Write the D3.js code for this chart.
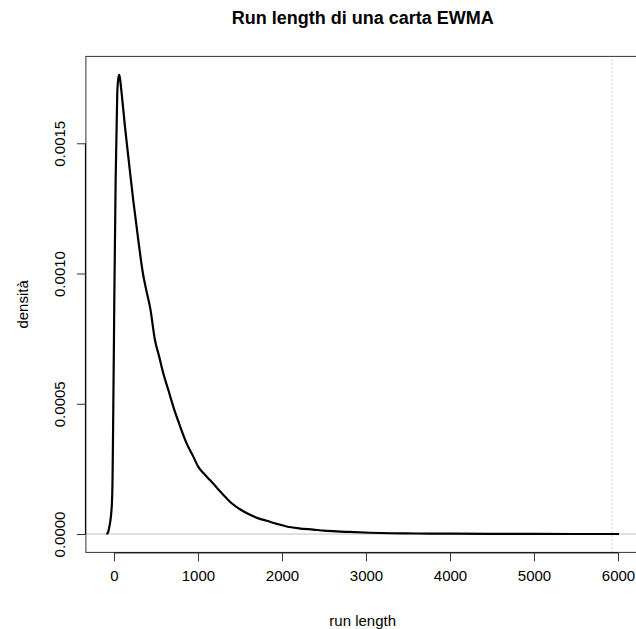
<!DOCTYPE html>
<html>
<head>
<meta charset="utf-8">
<script src="https://cdn.jsdelivr.net/npm/d3@7"></script>
<style>
  body { margin: 0; background: #fff; }
  text { font-family: "Liberation Sans", Arial, sans-serif; fill: #000; }
</style>
</head>
<body>
<script>
// run length values (x) and estimated density (y)
var runLength = [-90, -71, -56, -42, -30, -24, -18, -12, -6, 0, 4, 20, 39, 52, 63, 75, 92, 131, 175, 230, 289, 345,
  389, 430, 488, 539, 587, 650, 706, 780, 865, 940, 1004, 1070, 1143, 1200, 1262, 1330, 1401, 1500,
  1619, 1720, 1818, 1940, 2056, 2200, 2373, 2500, 2651, 2800, 3048, 3300, 3600, 4000, 4500, 5000, 5500, 6012]
var densita = [0, 0.000006, 0.000026, 0.000052, 0.00009, 0.00012, 0.00019, 0.00035, 0.00055, 0.00075, 0.0009,
  0.00136, 0.00169, 0.00175, 0.001763, 0.00174, 0.00169, 0.001564, 0.001436, 0.00128, 0.00113, 0.001,
  0.00093, 0.00087, 0.000745, 0.00068, 0.000617, 0.00055, 0.000489, 0.00042, 0.000348, 0.0003,
  0.000258, 0.000232, 0.000207, 0.000187, 0.000164, 0.000141, 0.000118, 0.000095,
  0.000074, 0.00006, 0.000051, 0.000039, 0.000029, 0.000022, 0.000017, 0.000013, 0.00001, 0.000008,
  0.000005, 0.000003, 0.000002, 0.0000012, 0.0000007, 0.0000004, 0.0000002, 0.0000001]
var xTicks = [0, 1000, 2000, 3000, 4000, 5000, 6000]
var yTicks = [0, 0.0005, 0.001, 0.0015]
var linea = 5929 // linea verticale tratteggiata

var titolo = "Run length di una carta EWMA"
var xLab = "run length"
var yLab = "densità"

var w = 636, h = 629

// dominio con il 4% di margine come in R
var xr = d3.extent(runLength)
var yr = d3.extent(densita)
var px = (xr[1] - xr[0]) * 0.04
var py = (yr[1] - yr[0]) * 0.04

var x = d3.scaleLinear().domain([xr[0] - px, xr[1] + px]).range([85.9, 639.5])
var y = d3.scaleLinear().domain([yr[0] - py, yr[1] + py]).range([552.4, 56.4])

var svg = d3.select("body").append("svg").attr("width", w).attr("height", h)

// linea orizzontale a zero (grigia)
svg.append("line")
  .attr("x1", x.range()[0]).attr("x2", x.range()[1])
  .attr("y1", y(0)).attr("y2", y(0))
  .attr("stroke", "#bebebe").attr("stroke-width", 1)

// linea verticale tratteggiata
svg.append("line")
  .attr("x1", x(linea)).attr("x2", x(linea))
  .attr("y1", y.range()[0]).attr("y2", y.range()[1])
  .attr("stroke", "#a8a8a8").attr("stroke-width", 1)
  .attr("stroke-dasharray", "1,3")

// curva di densita
var punti = runLength.map(function(d, i) { return [d, densita[i]] })
svg.append("path")
  .datum(punti)
  .attr("fill", "none")
  .attr("stroke", "#000")
  .attr("stroke-width", 2.2)
  .attr("stroke-linejoin", "round")
  .attr("d", d3.line()
    .x(function(d) { return x(d[0]) })
    .y(function(d) { return y(d[1]) })
    .curve(d3.curveMonotoneX))

// box
svg.append("rect")
  .attr("x", x.range()[0]).attr("y", y.range()[1])
  .attr("width", x.range()[1] - x.range()[0])
  .attr("height", y.range()[0] - y.range()[1])
  .attr("fill", "none").attr("stroke", "#333").attr("stroke-width", 1)

// asse x
var xAxis = svg.append("g")
  .attr("transform", "translate(0," + y.range()[0] + ")")
  .call(d3.axisBottom(x).tickValues(xTicks).tickSize(9).tickPadding(9).tickFormat(d3.format("d")))
xAxis.select(".domain").attr("d", "M" + x(xTicks[0]) + ",0.5H" + x(xTicks[xTicks.length - 1]))
xAxis.selectAll("text").attr("font-size", 15).attr("font-family", "Liberation Sans, Arial, sans-serif")
xAxis.selectAll("line").attr("stroke", "#333")

// asse y (etichette ruotate)
var yAxis = svg.append("g")
  .attr("transform", "translate(" + x.range()[0] + ",0)")
  .call(d3.axisLeft(y).tickValues(yTicks).tickSize(9).tickFormat(d3.format(".4f")))
yAxis.select(".domain").attr("d", "M-0.5," + y(yTicks[0]) + "V" + y(yTicks[yTicks.length - 1]))
yAxis.selectAll("line").attr("stroke", "#333")
yAxis.selectAll("text")
  .attr("font-size", 15).attr("font-family", "Liberation Sans, Arial, sans-serif")
  .attr("x", null).attr("dy", null)
  .attr("text-anchor", "middle")
  .attr("transform", "translate(-21,0) rotate(-90)")

// titolo ed etichette
svg.append("text")
  .attr("x", (x.range()[0] + x.range()[1]) / 2).attr("y", 24)
  .attr("text-anchor", "middle").attr("font-size", 18).attr("font-weight", "bold")
  .text(titolo)

svg.append("text")
  .attr("x", (x.range()[0] + x.range()[1]) / 2).attr("y", 626)
  .attr("text-anchor", "middle").attr("font-size", 15)
  .text(xLab)

svg.append("text")
  .attr("transform", "translate(28," + (y.range()[0] + y.range()[1]) / 2 + ") rotate(-90)")
  .attr("text-anchor", "middle").attr("font-size", 15)
  .text(yLab)
</script>
</body>
</html>
